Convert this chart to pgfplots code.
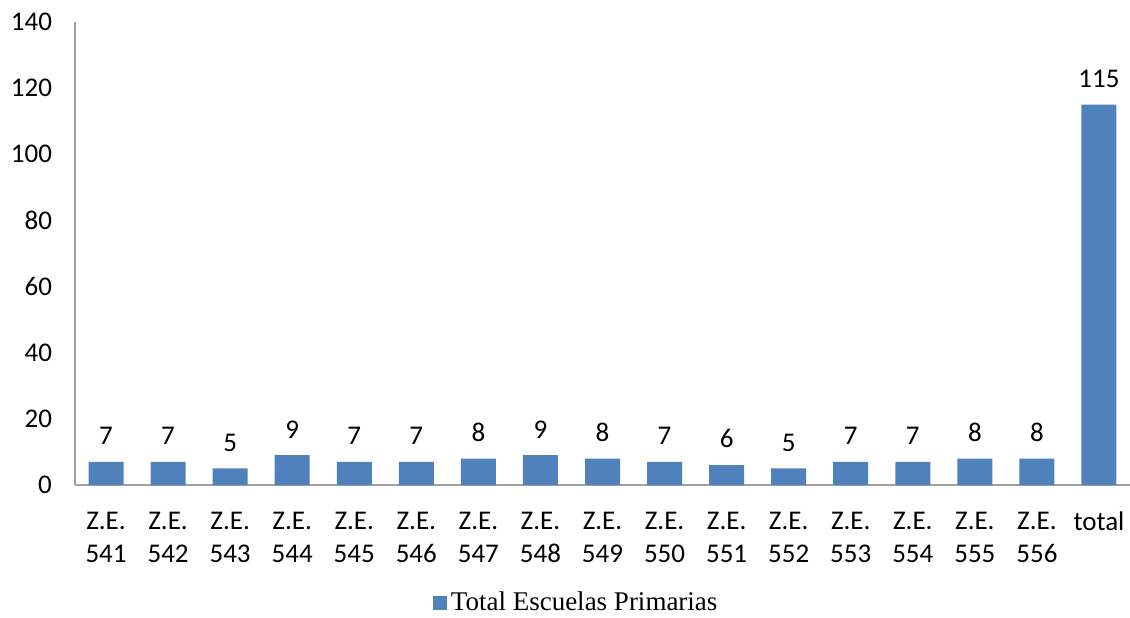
\documentclass[border=0pt]{standalone}
\usepackage{fontspec}
\setmainfont{Carlito}
\newfontfamily\timesf{Liberation Serif}
\usepackage{pgfplots}
\pgfplotsset{compat=1.18}
\definecolor{barblue}{HTML}{4F81BD}
\definecolor{axgray}{HTML}{A0A0A0}
\begin{document}
\begin{tikzpicture}
\useasboundingbox (-37.5pt,-66pt) rectangle (527.5pt,242.5pt);
\begin{axis}[
  at={(0,0)}, anchor=south west,
  scale only axis,
  width=527.5pt, height=231.5pt,
  xmin=-0.5, xmax=16.5,
  ymin=0, ymax=140,
  ytick={0,20,...,140},
  xtick={0,...,16},
  xticklabels={{Z.E.\\541},{Z.E.\\542},{Z.E.\\543},{Z.E.\\544},{Z.E.\\545},{Z.E.\\546},{Z.E.\\547},{Z.E.\\548},{Z.E.\\549},{Z.E.\\550},{Z.E.\\551},{Z.E.\\552},{Z.E.\\553},{Z.E.\\554},{Z.E.\\555},{Z.E.\\556},total},
  xticklabel style={align=center, font=\fontsize{13.5}{16.5}\selectfont, yshift=-10pt},
  yticklabel style={font=\fontsize{13.5}{15}\selectfont, xshift=-8pt},
  /pgf/number format/assume math mode=true,
  axis x line=bottom, axis y line=left,
  axis line style={axgray, line width=0.8pt, -},
  major tick length=0pt,
  tick style={draw=none},
  ybar, bar width=17.5pt,
  nodes near coords,
  every node near coord/.append style={font=\fontsize{13.5}{15}\selectfont, yshift=5pt},
  legend style={at={(0.476,-59pt)}, anchor=center, draw=none, font=\timesf\fontsize{13.5}{15}\selectfont, legend columns=1, inner sep=0pt},
  legend image code/.code={\fill[barblue] (0pt,-3.5pt) rectangle (7pt,3.5pt);},
  legend cell align=left,
]
\addplot[fill=barblue, draw=none] coordinates {
(0,7) (1,7) (2,5) (3,9) (4,7) (5,7) (6,8) (7,9) (8,8) (9,7) (10,6) (11,5) (12,7) (13,7) (14,8) (15,8) (16,115)
};
\addlegendentry{Total Escuelas Primarias}
\end{axis}
\end{tikzpicture}
\end{document}
